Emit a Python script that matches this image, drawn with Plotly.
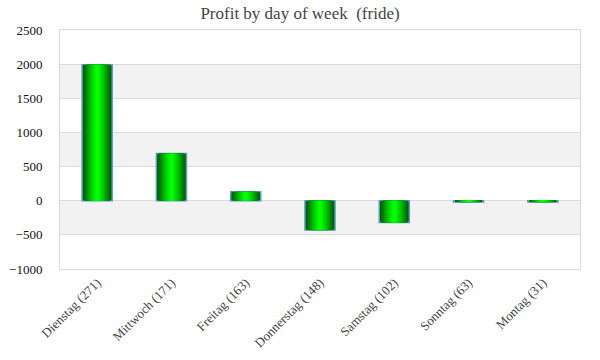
import plotly.graph_objects as go

days = ["Dienstag (271)", "Mittwoch (171)", "Freitag (163)", "Donnerstag (148)",
        "Samstag (102)", "Sonntag (63)", "Montag (31)"]
profit = [1990, 690, 130, -430, -320, -20, -20]
y_ticks = [-1000, -500, 0, 500, 1000, 1500, 2000, 2500]

font_family = "Liberation Serif, DejaVu Serif, serif"

fig = go.Figure()

# gradient simulation: layered bars, outer dark -> inner bright
layers = [
    (0.405, "#005800"),
    (0.365, "#006c00"),
    (0.32, "#008200"),
    (0.275, "#009a00"),
    (0.23, "#00b200"),
    (0.185, "#00c800"),
    (0.14, "#00dc00"),
    (0.095, "#00ee00"),
    (0.05, "#00ff00"),
]
for i, (w, c) in enumerate(layers):
    fig.add_trace(go.Bar(
        x=days, y=profit, width=w,
        marker=dict(color=c,
                    line=dict(color="#5b9bd5" if i == 0 else c, width=1.5 if i == 0 else 0)),
        showlegend=False, hoverinfo="x+y" if i == 0 else "skip",
    ))

# alternating bands
shapes = []
for k in range(len(y_ticks) - 1):
    lo, hi = y_ticks[k], y_ticks[k + 1]
    if k % 2 == 0:
        continue
    shapes.append(dict(type="rect", xref="paper", yref="y", x0=0, x1=1, y0=lo, y1=hi,
                       fillcolor="#f2f2f2", line=dict(width=0), layer="below"))

fig.update_layout(
    width=600, height=360,
    margin=dict(l=60, r=20, t=30, b=91),
    paper_bgcolor="white", plot_bgcolor="white",
    barmode="overlay",
    title=dict(text="Profit by day of week  (fride)", x=0.5, xanchor="center",
               y=0.963, yanchor="middle",
               font=dict(family=font_family, size=17, color="#444")),
    shapes=shapes,
    font=dict(family=font_family),
)
fig.update_xaxes(tickangle=-45, tickfont=dict(size=13, color="#444"),
                 showline=True, linecolor="#d9d9d9", mirror=True, showgrid=False,
                 ticks="", automargin=False)
fig.update_yaxes(range=[-1000, 2500], tickvals=y_ticks,
                 tickfont=dict(size=13, color="#111"),
                 showgrid=True, gridcolor="#dcdcdc", gridwidth=1,
                 showline=True, linecolor="#d9d9d9", mirror=True,
                 zeroline=False, ticks="", ticklabelstandoff=14, automargin=False)

fig.write_html("out.html", config={"displayModeBar": False},
               post_script="document.body.style.margin='0';")
